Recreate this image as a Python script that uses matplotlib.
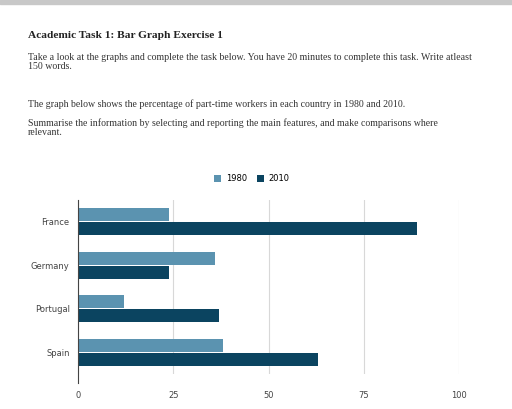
import matplotlib
matplotlib.use("Agg")
import matplotlib.pyplot as plt
import numpy as np

countries = ["France", "Germany", "Portugal", "Spain"]
vals_1980 = [24, 36, 12, 38]
vals_2010 = [89, 24, 37, 63]
years = ["1980", "2010"]
colors = ["#5b93b0", "#0b4460"]

W, H = 512, 409
fig = plt.figure(figsize=(W / 100, H / 100), dpi=100)
fig.patches.append(plt.Rectangle((0, 1 - 4 / H), 1, 4 / H, transform=fig.transFigure,
                                 color="#c8c8c8", zorder=0))

serif = ["Liberation Serif", "DejaVu Serif"]
fig.text(28 / W, 1 - 36 / H, "Academic Task 1: Bar Graph Exercise 1", family=serif,
         fontsize=8.2, weight="bold", va="center", color="#222222")
fig.text(28 / W, 1 - 62 / H,
         "Take a look at the graphs and complete the task below. You have 20 minutes to complete this task. Write atleast\n150 words.",
         family=serif, fontsize=7.1, va="center", color="#333333", linespacing=1.0)
fig.text(28 / W, 1 - 104 / H,
         "The graph below shows the percentage of part-time workers in each country in 1980 and 2010.",
         family=serif, fontsize=7.1, va="center", color="#333333")
fig.text(28 / W, 1 - 128 / H,
         "Summarise the information by selecting and reporting the main features, and make comparisons where\nrelevant.",
         family=serif, fontsize=7.1, va="center", color="#333333", linespacing=1.0)

ax = fig.add_axes([78 / W, 1 - 374 / H, (459 - 78) / W, 174 / H])
y = np.arange(len(countries))
h = 0.29
ax.barh(y - 0.16, vals_1980, height=h, color=colors[0], label=years[0])
ax.barh(y + 0.16, vals_2010, height=h, color=colors[1], label=years[1])
ax.set_xlim(0, 100)
ax.set_ylim(3.5, -0.5)
ax.set_yticks(y)
ax.set_yticklabels(countries)
ax.set_xticks([0, 25, 50, 75, 100])
ax.tick_params(length=0, labelsize=6, colors="#444444", pad=6)
ax.tick_params(axis="x", pad=12)
ax.grid(axis="x", color="#d8d8d8", lw=0.8)
ax.set_axisbelow(True)
for s in ["top", "right", "bottom"]:
    ax.spines[s].set_visible(False)
ax.spines["left"].set_color("#444444")
ax.spines["left"].set_bounds(3.7, -0.5)
ax.spines["left"].set_clip_on(False)

fig.legend(loc="center", bbox_to_anchor=(252 / W, 1 - 179 / H), ncol=2, frameon=False,
           fontsize=6, handlelength=0.8, handleheight=0.8, columnspacing=1.2, handletextpad=0.6)
fig.savefig("out.png", dpi=100)
